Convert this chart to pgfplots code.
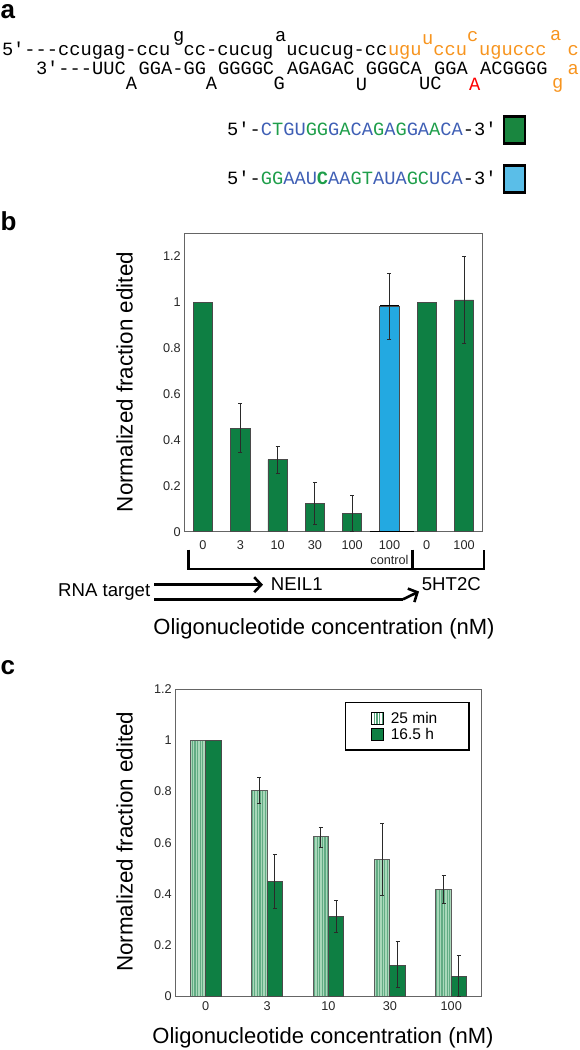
\documentclass[border=0pt]{standalone}
\usepackage{pgfplots}
\usepackage{pgfplotstable}
\usepackage{fontspec}
\pgfplotsset{compat=1.18}
\usetikzlibrary{patterns.meta,arrows.meta}
\setmainfont{Liberation Sans}
\setmonofont{Liberation Mono}
\definecolor{barg}{HTML}{0E7F43}
\definecolor{barb}{HTML}{23A9E1}
\definecolor{edge}{HTML}{4A4A4A}
\definecolor{lg}{HTML}{A9D8BA}
\definecolor{lgs}{HTML}{62AC84}
\definecolor{sb}{HTML}{3F5FB5}
\definecolor{sg}{HTML}{1E9E4A}
\definecolor{orng}{HTML}{F7941E}
\definecolor{errc}{HTML}{2A2A2A}
\newcommand\Bl[1]{\textcolor{sb}{#1}}
\newcommand\Gr[1]{\textcolor{sg}{#1}}
\newcommand\Tx[3]{\node[anchor=base west,inner sep=0pt] at (#1pt,-#2pt) {#3};}
\newcommand\Or[1]{\textcolor{orng}{#1}}
% panel b
\pgfplotstableread{
x y
0 1
6 1
}\bplain
\pgfplotstableread{
x y ep em
1 0.45 0.108 0.104
2 0.314 0.058 0.060
3 0.122 0.092 0.090
4 0.078 0.080 0.078
7 1.01 0.190 0.188
}\berr
\pgfplotstableread{
x y ep em
5 0.984 0.141 0.144
}\bctl
% panel c
\pgfplotstableread{
x y
-0.1257 1
}\cplain
\pgfplotstableread{
x y
0.1257 1
}\cplainb
\pgfplotstableread{
x y ep em
0.8743 0.803 0.052 0.048
1.8743 0.623 0.037 0.042
2.8743 0.534 0.141 0.140
3.8743 0.418 0.055 0.055
}\cshort
\pgfplotstableread{
x y ep em
1.1257 0.449 0.106 0.106
2.1257 0.312 0.063 0.062
3.1257 0.121 0.092 0.088
4.1257 0.077 0.080 0.077
}\clong
\pgfplotsset{
 panel/.style={
  scale only axis,
  axis line style={draw=edge!85!white,line width=0.9pt},
  major tick length=0pt,
  clip=false,
  ymin=0,
  ytick={0,0.2,0.4,0.6,0.8,1,1.2},
  yticklabels={0,0.2,0.4,0.6,0.8,1,1.2},
  tick label style={font=\fontsize{12.7}{14.6}\selectfont,text=black!85},
  /pgf/number format/assume math mode=true,
  xticklabel style={align=center,inner sep=0pt},
  yticklabel style={inner sep=0pt,xshift=-3pt},
  ylabel style={font=\fontsize{22.4}{24}\selectfont,anchor=base},
  xlabel style={font=\fontsize{22}{24}\selectfont,anchor=base},
 },
 ebars/.style={
  error bars/.cd,y dir=both,y explicit,
  error bar style={color=errc,line width=0.9pt},
  error mark options={rotate=90,mark size=2pt,line width=0.9pt,color=errc},
 },
}
\tikzset{lightbar/.style={draw=edge!90!white,line width=0.9pt,
  preaction={fill=lg},
  pattern={Lines[angle=90,distance=2.6pt,line width=1.1pt]},pattern color=lgs}}
\begin{document}
\begin{tikzpicture}
\useasboundingbox (0pt,0pt) rectangle (579pt,-1050pt);
\begin{axis}[panel,
  at={(184pt,-531.7pt)},anchor=south west,
  width=298.7pt,height=298.7pt,
  xmin=-0.51,xmax=7.5,ymax=1.302,
  xtick={0,1,2,3,4,5,6,7},
  xticklabels={0,3,10,30,100,{100\\control},0,100},
  xticklabel style={yshift=-9pt},
  ylabel={Normalized fraction edited},
  ylabel style={at={(axis description cs:-0.172,0.501)}},
  xlabel={Oligonucleotide concentration (nM)},
  xlabel style={at={(axis description cs:0.4687,-0.3458)}},
]
\addplot[ybar,bar width=19.3pt,bar shift=0pt,fill=barg,draw=edge,line width=0.9pt] table[x=x,y=y] {\bplain};
\addplot[ybar,bar width=19.3pt,bar shift=0pt,fill=barg,draw=edge,line width=0.9pt,
  ebars] table[x=x,y=y,y error plus=ep,y error minus=em] {\berr};
\addplot[ybar,bar width=19.3pt,bar shift=0pt,fill=barb,draw=edge,line width=0.9pt,
  ebars] table[x=x,y=y,y error plus=ep,y error minus=em] {\bctl};
\addplot[black,line width=1.1pt] coordinates {(4.477,0) (5.657,0)};
\addplot[black,line width=1pt] coordinates {(4.75,0.984) (5.25,0.984)};
\end{axis}
\begin{axis}[panel,
  at={(175pt,-996pt)},anchor=south west,
  width=306.3pt,height=306.7pt,
  xmin=-0.5,xmax=4.49,ymax=1.2,
  xtick={0,1,2,3,4},
  xticklabels={0,3,10,30,100},
  xticklabel style={yshift=-5pt},
  ylabel={Normalized fraction edited},
  ylabel style={at={(axis description cs:-0.138,0.503)}},
  xlabel={Oligonucleotide concentration (nM)},
  xlabel style={at={(axis description cs:0.4832,-0.1532)}},
  legend style={draw=none,fill=none,at={(axis description cs:0.640,0.926)},anchor=north west,
    font=\fontsize{15.5}{16}\selectfont,inner sep=0pt,row sep=3.5pt,column sep=7pt,
    nodes={inner sep=0pt,text height=11pt,text depth=0pt}},
  legend cell align=left,
]
\addplot[ybar,bar width=15.4pt,bar shift=0pt,lightbar,forget plot] table[x=x,y=y] {\cplain};
\addplot[ybar,bar width=15.4pt,bar shift=0pt,fill=barg,draw=edge,line width=0.9pt,forget plot] table[x=x,y=y] {\cplainb};
\addplot[ybar,bar width=15.4pt,bar shift=0pt,lightbar,
  legend image code/.code={\draw[black,line width=0.9pt,preaction={fill=white},
     pattern={Lines[angle=90,distance=2.6pt,line width=1.3pt]},pattern color=barg!70!white] (0pt,-6.15pt) rectangle (11.3pt,5.15pt);},
  ebars] table[x=x,y=y,y error plus=ep,y error minus=em] {\cshort};
\addlegendentry{25 min}
\addplot[ybar,bar width=15.4pt,bar shift=0pt,fill=barg,draw=edge,line width=0.9pt,
  legend image code/.code={\draw[black,line width=0.9pt,fill=barg] (0pt,-6.15pt) rectangle (11.3pt,5.15pt);},
  ebars] table[x=x,y=y,y error plus=ep,y error minus=em] {\clong};
\addlegendentry{16.5 h}
\end{axis}
% legend frame, panel c
\draw[black,line width=1.2pt] (345.3pt,-702.7pt) rectangle (469pt,-750pt);
% panel letters
\begin{scope}[font=\bfseries\fontsize{26}{26}\selectfont]
\Tx{0.5}{18}{a}
\Tx{0.5}{230}{b}
\Tx{0.5}{674}{c}
\end{scope}
% sequences
\begin{scope}[font=\ttfamily\fontsize{18.7}{20}\selectfont]
\Tx{1.8}{55}{5'---ccugag-ccu}
\Tx{183.5}{55}{cc-cucug}
\Tx{286.2}{55}{ucucug-cc}
\Tx{387.8}{55}{\Or{ugu}}
\Tx{433.2}{55}{\Or{ccu}}
\Tx{479}{55}{\Or{uguccc}}
\Tx{567.5}{55}{\Or{c}}
\Tx{172.8}{41}{g}
\Tx{275}{41}{a}
\Tx{422}{44}{\Or{u}}
\Tx{467}{41}{\Or{c}}
\Tx{550}{40}{\Or{a}}
\Tx{35.8}{74}{3'---UUC}
\Tx{138.5}{74}{GGA-GG}
\Tx{217.9}{74}{GGGGC}
\Tx{287}{74}{AGAGAC}
\Tx{365.6}{74}{GGGCA}
\Tx{434}{74}{GGA}
\Tx{480}{74}{ACGGGG}
\Tx{567.5}{74}{\Or{a}}
\Tx{125.6}{89.5}{A}
\Tx{205.7}{89.5}{A}
\Tx{273.3}{89.5}{G}
\Tx{355.6}{90}{U}
\Tx{419}{89.5}{UC}
\Tx{469}{90}{\textcolor{red}{A}}
\Tx{552}{88}{\Or{g}}
\Tx{227}{135}{5'-\Bl{C}\Gr{T}\Bl{GU}\Gr{GG}\Bl{G}\Gr{A}\Bl{CA}\Gr{G}\Bl{A}\Gr{G}\Bl{GA}\Gr{A}\Bl{CA}-3'}
\Tx{227}{184}{5'-\Gr{GG}\Bl{AAU}\textcolor{sg}{\bfseries C}\Bl{AA}\Gr{GT}\Bl{AUA}\Gr{GC}\Bl{UCA}-3'}
\end{scope}
\draw[black,line width=2.2pt,fill=sg!85!black] (504pt,-116.5pt) rectangle (525pt,-143.5pt);
\draw[black,line width=2.2pt,fill=barb!75!white] (504pt,-165.5pt) rectangle (525pt,-192.5pt);
% bracket and target annotation, panel b
\draw[black,line width=2.4pt] (188.5pt,-549.5pt) -- (188.5pt,-569pt) -- (484pt,-569pt) -- (484pt,-550pt);
\draw[black,line width=2.4pt] (412.3pt,-549.5pt) -- (412.3pt,-569pt);
\node[anchor=base west,inner sep=0pt,font=\fontsize{18.6}{20}\selectfont] at (58pt,-596pt) {RNA target};
\node[anchor=base west,inner sep=0pt,font=\fontsize{18.6}{20}\selectfont] at (270.7pt,-590pt) {NEIL1};
\node[anchor=base west,inner sep=0pt,font=\fontsize{18.6}{20}\selectfont] at (421.7pt,-590pt) {5HT2C};
\draw[black,line width=2.6pt,-{Straight Barb[length=7pt,width=15pt,line width=2.6pt]}] (154pt,-584.7pt) -- (263pt,-584.7pt);
\draw[black,line width=2.6pt] (154pt,-599.3pt) -- (403pt,-599.3pt);
\draw[black,line width=2.6pt,-{Straight Barb[length=7pt,width=15pt,line width=2.6pt]}] (403pt,-599.3pt) -- (419pt,-591.5pt);
\end{tikzpicture}
\end{document}
